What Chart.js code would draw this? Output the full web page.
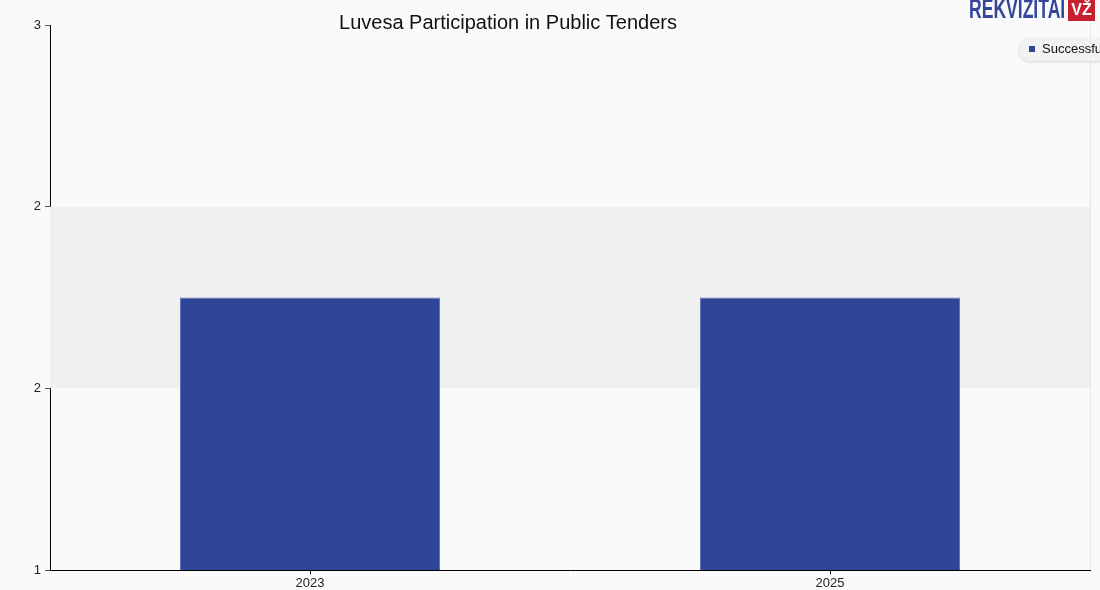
<!DOCTYPE html>
<html>
<head>
<meta charset="utf-8">
<script src="https://cdn.jsdelivr.net/npm/chart.js@4/dist/chart.umd.min.js"></script>
<style>
  html, body { margin: 0; padding: 0; background: #fafafa; }
  #wrap { width: 1100px; height: 590px; position: relative; }
</style>
</head>
<body>
<div id="wrap"><canvas id="tendersChart" width="1100" height="590"></canvas></div>
<script>
const years = ['2023', '2025'];
const successful = [2, 2];
const yTickValues = [1, 5 / 3, 7 / 3, 3];
const yTickLabels = ['1', '2', '2', '3'];
const chartTitle = 'Luvesa Participation in Public Tenders';
const legendLabel = 'Successful';

const FONT = "'Liberation Sans', Arial, sans-serif";

// bandas grises entre lineas de la rejilla + marco derecho
const bandsPlugin = {
    id: 'bands',
    beforeDatasetsDraw(chart) {
        const { ctx, chartArea, scales } = chart;
        const y = scales.y;
        ctx.save();
        for (let i = 0; i < y.ticks.length - 1; i++) {
            if (i % 2 === 1) {
                const top = y.getPixelForValue(y.ticks[i + 1].value);
                const bot = y.getPixelForValue(y.ticks[i].value);
                ctx.fillStyle = '#f0f0f0';
                ctx.fillRect(chartArea.left, top, chartArea.right - chartArea.left, bot - top);
            }
        }
        ctx.strokeStyle = '#e6e6e6';
        ctx.lineWidth = 1;
        ctx.beginPath();
        ctx.moveTo(chartArea.right + 0.5, chartArea.top);
        ctx.lineTo(chartArea.right + 0.5, chartArea.bottom);
        ctx.stroke();
        ctx.restore();
    }
};

// titulo, leyenda recortada y logo
const decorPlugin = {
    id: 'decor',
    afterDraw(chart) {
        const { ctx } = chart;
        ctx.save();
        ctx.fillStyle = '#111';
        ctx.font = '20px ' + FONT;
        ctx.textAlign = 'center';
        ctx.textBaseline = 'middle';
        ctx.fillText(chartTitle, 508, 23);

        // leyenda
        ctx.shadowColor = 'rgba(0,0,0,0.15)';
        ctx.shadowBlur = 3;
        ctx.shadowOffsetY = 1;
        ctx.fillStyle = '#f2f2f2';
        ctx.beginPath();
        ctx.roundRect(1019, 38, 110, 23, 11);
        ctx.fill();
        ctx.shadowColor = 'transparent';
        ctx.fillStyle = '#2e4598';
        ctx.fillRect(1029, 46, 6, 6);
        ctx.fillStyle = '#111';
        ctx.font = '13px ' + FONT;
        ctx.textAlign = 'left';
        ctx.fillText(legendLabel, 1042, 49.5);

        // logo
        ctx.fillStyle = '#34469a';
        ctx.font = 'bold 27px ' + FONT;
        ctx.save();
        ctx.translate(969, 11);
        ctx.scale(0.65, 1);
        ctx.fillText('REKVIZITAI', 0, 0);
        ctx.restore();
        ctx.fillStyle = '#c8202f';
        ctx.fillRect(1068, 0, 27, 21);
        ctx.fillStyle = '#fff';
        ctx.font = 'bold 16px ' + FONT;
        ctx.textAlign = 'center';
        ctx.fillText('VŽ', 1081.5, 11);
        ctx.restore();
    }
};

new Chart(document.getElementById('tendersChart').getContext('2d'), {
    type: 'bar',
    data: {
        labels: years,
        datasets: [{
            label: legendLabel,
            data: successful,
            backgroundColor: '#2e4598',
            borderColor: '#6374bd',
            borderWidth: 1,
            borderSkipped: false,
            barPercentage: 0.5,
            categoryPercentage: 1.0
        }]
    },
    options: {
        responsive: false,
        animation: false,
        devicePixelRatio: 1,
        layout: { padding: { left: 0, right: 10, top: 25, bottom: 0 } },
        plugins: { legend: { display: false }, title: { display: false }, tooltip: { enabled: false } },
        scales: {
            x: {
                grid: { display: true, drawOnChartArea: false, drawTicks: true, tickLength: 4, color: '#000', offset: false },
                border: { display: true, color: '#000', width: 1 },
                ticks: { color: '#222', font: { family: FONT, size: 13 }, padding: 2 },
                afterFit(scale) { scale.height = 20; }
            },
            y: {
                min: 1,
                max: 3,
                grid: { display: true, drawOnChartArea: false, drawTicks: true, tickLength: 5, color: '#555' },
                border: { display: true, color: '#000', width: 1 },
                ticks: {
                    color: '#222',
                    font: { family: FONT, size: 13 },
                    padding: 4,
                    callback: (v, i) => yTickLabels[i]
                },
                afterBuildTicks(scale) { scale.ticks = yTickValues.map(v => ({ value: v })); },
                afterFit(scale) { scale.width = 50; }
            }
        }
    },
    plugins: [bandsPlugin, decorPlugin]
});
</script>
</body>
</html>
